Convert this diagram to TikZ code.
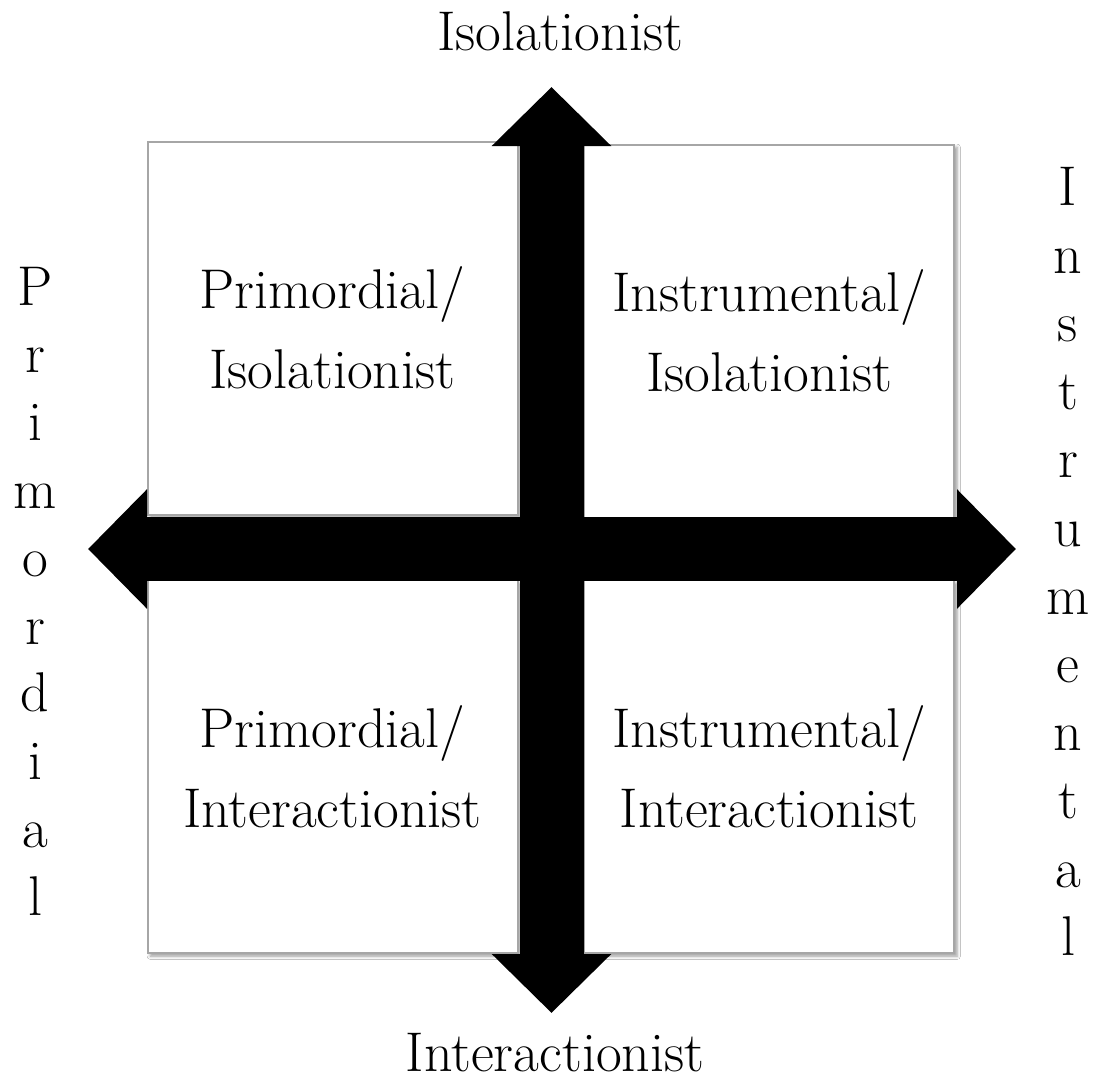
\documentclass[tikz,border=0pt]{standalone}
\usetikzlibrary{arrows.meta,shadows.blur}
\begin{document}
\begin{tikzpicture}[x=0.5pt,y=-0.5pt,
  quad/.style={draw=black!35,line width=1pt,fill=white,minimum width=185pt,minimum height=186.5pt,
    inner sep=0pt,align=center,font=\fontsize{28}{40}\selectfont,
    blur shadow={shadow xshift=1.5pt,shadow yshift=-1.5pt,shadow blur steps=4,shadow opacity=40}},
  lbl/.style={font=\fontsize{28}{33}\selectfont,inner sep=0pt,anchor=base},
  bigarrow/.style={line width=32pt,{Triangle[length=29.5pt,width=58pt]}-{Triangle[length=29.5pt,width=58pt]}}]
\useasboundingbox (0,0) rectangle (1099,1082);
\fill[white] (0,0) rectangle (1099,1082);
\node[quad] (tl) at (332.5,328) {Primordial/\\Isolationist};
\node[quad] (tr) at (769,331) {Instrumental/\\Isolationist};
\node[quad] (bl) at (332.5,766.5) {Primordial/\\Interactionist};
\node[quad] (br) at (769,766.5) {Instrumental/\\Interactionist};
\coordinate (top) at (551.5,87);
\coordinate (bot) at (551.5,1013);
\coordinate (lft) at (88,549);
\coordinate (rgt) at (1016,549);
\draw[bigarrow] (lft) -- (rgt);
\draw[bigarrow] (bot) -- (top);
\node[lbl] (isol) at (560,50) {Isolationist};
\node[lbl] (inter) at (555,1071) {Interactionist};
\foreach \c [count=\k from 0] in {P,r,i,m,o,r,d,i,a,l}
  \node[lbl] (prim\k) at (35,305+67.8*\k) {\c};
\foreach \c [count=\k from 0] in {I,n,s,t,r,u,m,e,n,t,a,l}
  \node[lbl] (inst\k) at (1068,205+68.2*\k) {\c};
\end{tikzpicture}
\end{document}
